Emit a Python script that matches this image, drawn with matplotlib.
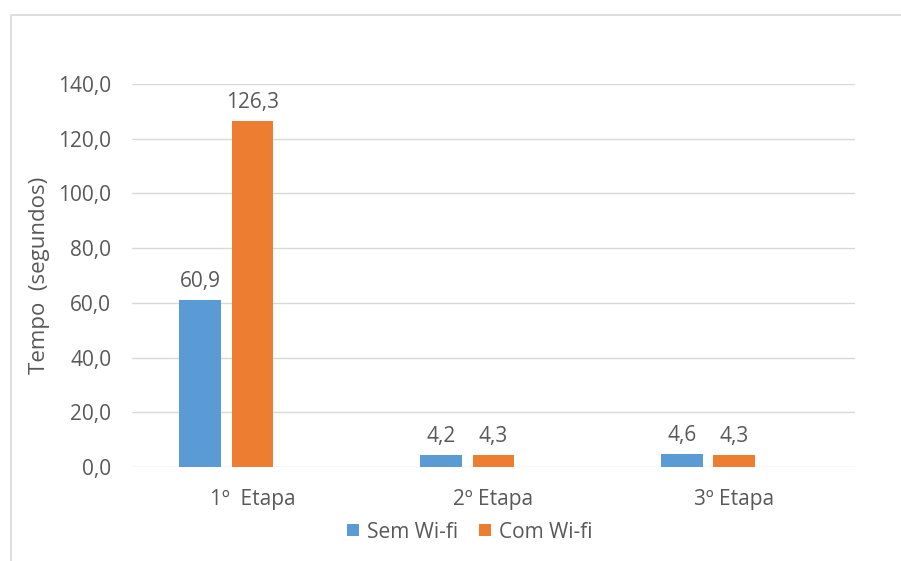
import numpy as np
from matplotlib import pyplot as plt
from matplotlib.patches import Rectangle

plt.rcParams['font.family'] = ['Open Sans', 'DejaVu Sans']

etapas = ['1º  Etapa', '2º Etapa', '3º Etapa']
sem_wifi = [60.9, 4.2, 4.6]
com_wifi = [126.3, 4.3, 4.3]
y_ticks = [0, 20, 40, 60, 80, 100, 120, 140]

txt = '#595959'
grid = '#d9d9d9'
blue = '#5B9BD5'
orange = '#ED7D31'
fs = 15

fig = plt.figure(facecolor='w', figsize=(9.01, 5.61), dpi=100)
ax = fig.add_axes([0.1465, 0.1676, 0.8024, 0.6827])

# grupo de 3 posicoes (a terceira fica vazia), como no Excel
x = np.arange(len(etapas))
w = 0.174
pitch = 0.216
b1 = ax.bar(x - pitch, sem_wifi, w, color=blue, label='Sem Wi-fi', zorder=3)
b2 = ax.bar(x, com_wifi, w, color=orange, label='Com Wi-fi', zorder=3)

for bars, vals in ((b1, sem_wifi), (b2, com_wifi)):
    for b, v in zip(bars, vals):
        ax.annotate(('%.1f' % v).replace('.', ','),
                    (b.get_x() + b.get_width() / 2, b.get_height()),
                    xytext=(0, 6), textcoords='offset points',
                    ha='center', va='bottom', fontsize=fs, color=txt)

ax.set_xlim(-0.5, 2.5)
ax.set_ylim(0, 140)
ax.set_yticks(y_ticks)
ax.set_yticklabels([('%.1f' % t).replace('.', ',') for t in y_ticks])
ax.set_xticks(x)
ax.set_xticklabels(etapas)
ax.yaxis.grid(True, color=grid, lw=1, zorder=0)
for s in ax.spines.values():
    s.set_visible(False)
ax.tick_params(length=0, labelsize=fs, labelcolor=txt)
ax.tick_params(axis='y', pad=15)
ax.tick_params(axis='x', pad=16)
ax.set_ylabel('Tempo  (segundos)', fontsize=16, color=txt, labelpad=6)

fig.legend(handles=[b1, b2], loc='center', bbox_to_anchor=(470 / 901, 1 - 532 / 561),
           ncol=2, frameon=False, fontsize=fs, labelcolor=txt,
           handlelength=0.55, handleheight=0.55, handletextpad=0.4,
           columnspacing=1.0)

fig.patches.append(Rectangle((0.012, -0.02), 1.0, 0.993, transform=fig.transFigure,
                             fill=False, edgecolor=grid, lw=1.2))

fig.savefig('out.png', dpi=100)
plt.close()
